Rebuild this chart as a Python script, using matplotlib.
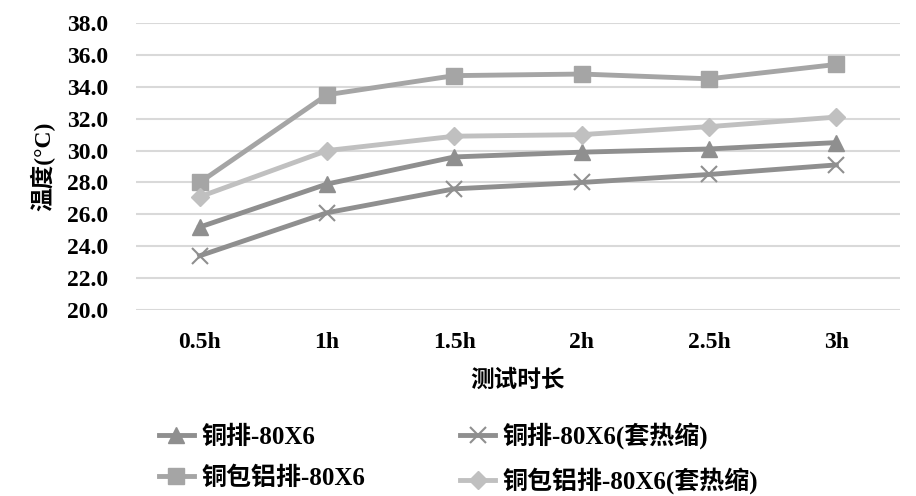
import matplotlib.pyplot as plt

times = ["0.5h", "1h", "1.5h", "2h", "2.5h", "3h"]
cu_bar = [25.2, 27.9, 29.6, 29.9, 30.1, 30.5]
cu_bar_sleeve = [23.4, 26.1, 27.6, 28.0, 28.5, 29.1]
cca_bar = [28.0, 33.5, 34.7, 34.8, 34.5, 35.4]
cca_bar_sleeve = [27.1, 30.0, 30.9, 31.0, 31.5, 32.1]
yticks = [20 + 2 * i for i in range(10)]

fonts = ["Liberation Serif", "Noto Sans CJK SC"]
plt.rcParams["font.family"] = fonts

fig = plt.figure(figsize=(9.16, 4.96), dpi=100)
ax = fig.add_axes([0.1485, 0.375, 0.834, 0.5786])

x = list(range(len(times)))
line_kw = dict(linewidth=3.5, markersize=11)
h1, = ax.plot(x, cu_bar, color="#8f8f8f", marker="^", label="铜排-80X6", **line_kw)
h2, = ax.plot(x, cu_bar_sleeve, color="#8f8f8f", marker="x", markeredgewidth=1.5,
              label="铜排-80X6(套热缩)", **line_kw)
h3, = ax.plot(x, cca_bar, color="#a5a5a5", marker="s", label="铜包铝排-80X6", **line_kw)
h4, = ax.plot(x, cca_bar_sleeve, color="#c0c0c0", marker="D", markersize=9,
              linewidth=3.5, label="铜包铝排-80X6(套热缩)")

ax.set_xlim(-0.5, len(times) - 0.5)
ax.set_ylim(20, 38)
ax.set_xticks(x)
ax.set_xticklabels(times, fontsize=17, fontweight="bold")
ax.set_yticks(yticks)
ax.set_yticklabels([f"{v:.1f}" for v in yticks], fontsize=17, fontweight="bold")
ax.tick_params(length=0)
ax.tick_params(axis="x", pad=16)
ax.tick_params(axis="y", pad=20)
ax.grid(axis="y", color="#d9d9d9", linewidth=1.5)
ax.set_axisbelow(True)
for s in ax.spines.values():
    s.set_visible(False)

ax.set_xlabel("测试时长", fontsize=17, fontweight="bold", labelpad=12)
ax.set_ylabel("温度(°C)", fontsize=17, fontweight="bold", labelpad=8)

fig.legend(handles=[h1, h3, h2, h4], loc="lower left", bbox_to_anchor=(0.149, -0.041),
           ncol=2, frameon=False, handlelength=1.4, handletextpad=0.3, columnspacing=3.8,
           labelspacing=0.7, prop=dict(family=fonts, size=18, weight="bold"))

fig.savefig("out.png", dpi=100)
